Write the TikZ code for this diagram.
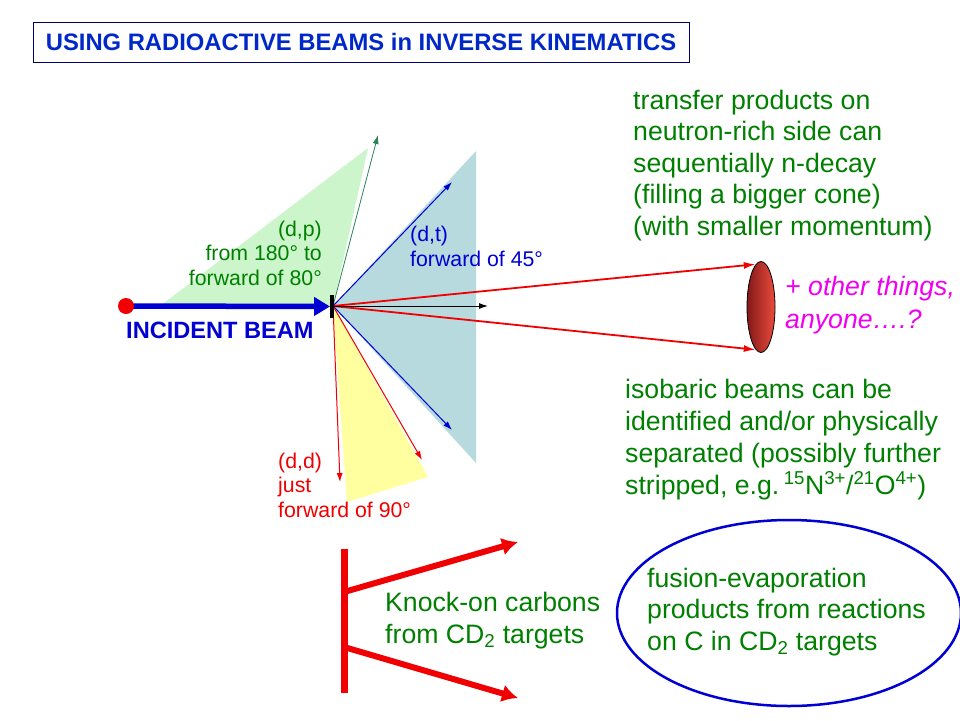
\documentclass[tikz,border=0pt]{standalone}
\usepackage{fontspec}
\setmainfont{Liberation Sans}
\usetikzlibrary{arrows.meta,shapes.geometric}
\definecolor{tgreen}{RGB}{0,128,0}
\definecolor{tblue}{RGB}{0,0,210}
\definecolor{ttitle}{RGB}{0,40,200}
\definecolor{tnavy}{RGB}{0,0,110}
\definecolor{tred}{RGB}{240,0,0}
\definecolor{tmag}{RGB}{240,0,240}
\definecolor{gfill}{RGB}{204,245,204}
\definecolor{bfill}{RGB}{182,218,222}
\definecolor{yfill}{RGB}{255,255,160}
\definecolor{tealarrow}{RGB}{40,130,90}
\definecolor{darkred}{RGB}{130,25,25}
\definecolor{lightred}{RGB}{235,75,60}
\tikzset{
  bigtxt/.style={font=\fontsize{26.67}{31.5}\selectfont, inner sep=0pt, align=left},
  smalltxt/.style={font=\fontsize{21.3}{24.5}\selectfont, inner sep=0pt},
  thinarrow/.style={line width=1pt, -{Latex[length=9pt,width=6pt]}},
  redray/.style={tred, line width=1.8pt, -{Latex[length=12pt,width=7pt]}},
  knock/.style={tred, line width=6pt, -{Latex[length=16pt,width=18pt]}},
}
\begin{document}
\begin{tikzpicture}[x=1pt,y=-1pt]
\path[use as bounding box, fill=white] (0,0) rectangle (960,720);

% title
\node[draw=tnavy, line width=1pt, minimum width=656pt, minimum height=40pt, inner sep=0pt,
      text=ttitle, font=\fontsize{23.8}{28}\selectfont\bfseries] (title) at (361,42) {USING RADIOACTIVE BEAMS in INVERSE KINEMATICS};

% apex / target point
\coordinate (T) at (333,306);

% cones
\fill[gfill] (T) -- (160,306) -- (368,148) -- cycle;
\fill[bfill] (T) -- (476,151) -- (476,463) -- cycle;
\fill[yfill] (T) -- (347,502) -- (428,477) -- cycle;

% cone end points
\coordinate (pEnd) at (378,135);
\coordinate (tUp) at (452,182);
\coordinate (tDn) at (452,430);
\coordinate (dA) at (340,482);
\coordinate (dB) at (422,460);
\coordinate (fwd) at (488,306);

% detector ellipse
\node[ellipse, draw=black, line width=0.8pt, minimum width=28pt, minimum height=91pt, inner sep=0pt,
      left color=darkred, right color=lightred] (det) at (761,307) {};

\draw[thinarrow, tealarrow, line width=0.8pt] (T) -- (pEnd);
\draw[thinarrow, tblue] (T) -- (tUp);
\draw[thinarrow, tblue] (T) -- (tDn);
\draw[thinarrow, tred] (T) -- (dA);
\draw[thinarrow, tred] (T) -- (dB);
\draw[redray] (T) -- (det.97);
\draw[redray] (T) -- (det.263);
\draw[thinarrow, black] (T) -- (fwd);

% incident beam
\coordinate (srcc) at (126,306);
\node[fill=black, minimum width=3.5pt, minimum height=23pt, inner sep=0pt] (tgt) at (332,306.5) {};
\draw[tblue, line width=5.5pt, -{Triangle[length=16pt,width=18pt]}] (srcc) -- (tgt.west);
\node[circle, fill=tred, minimum size=16pt, inner sep=0pt] (src) at (srcc) {};

% labels near target (base anchor = baseline of last line)
\node[smalltxt, text=tgreen, align=right, anchor=base east] (dp) at (322,285) {(d,p)\\from 180° to\\forward of 80°};
\node[smalltxt, text=tblue, align=left, anchor=base west] (dt) at (410,266) {(d,t)\\forward of 45°};
\node[smalltxt, text=tred, align=left, anchor=base west] (dd) at (278,517) {(d,d)\\just\\forward of 90°};
\node[inner sep=0pt, text=tblue, font=\fontsize{23.6}{28}\selectfont\bfseries, anchor=base west] (inc) at (126,338) {INCIDENT BEAM};

% right texts
\node[bigtxt, text=tgreen, anchor=base west] (transfer) at (633,235) {transfer products on\\neutron-rich side can\\sequentially n-decay\\(filling a bigger cone)\\(with smaller momentum)};
\node[bigtxt, text=tmag, anchor=base west, font=\fontsize{26.67}{33}\selectfont\itshape] (other) at (785,328) {+ other things,\\anyone….?};
\node[bigtxt, text=tgreen, anchor=base west, font=\fontsize{26.67}{32}\selectfont] (isobar) at (625,494) {isobaric beams can be\\identified and/or physically\\separated (possibly further\\stripped, e.g.\,\textsuperscript{15}N\textsuperscript{3+}/\textsuperscript{21}O\textsuperscript{4+})};

% knock-on carbons
\node[fill=tred, minimum width=7pt, minimum height=144pt, inner sep=0pt] (bar) at (344,621) {};
\coordinate (j1) at (344,592);
\coordinate (j2) at (344,647);
\coordinate (k1) at (518,542);
\coordinate (k2) at (518,698);
\draw[knock] (j1) -- (k1);
\draw[knock] (j2) -- (k2);
\node[bigtxt, text=tgreen, anchor=base west] (knocktxt) at (385,643) {Knock-on carbons\\from CD\textsubscript{2} targets};

% fusion-evaporation ellipse
\node[ellipse, draw=tblue, line width=2.5pt, minimum width=344pt, minimum height=186pt, inner sep=0pt] (fus) at (789,613) {};
\node[bigtxt, text=tgreen, anchor=base west] (fustxt) at (647,650) {fusion-evaporation\\products from reactions\\on C in CD\textsubscript{2} targets};
\end{tikzpicture}
\end{document}
